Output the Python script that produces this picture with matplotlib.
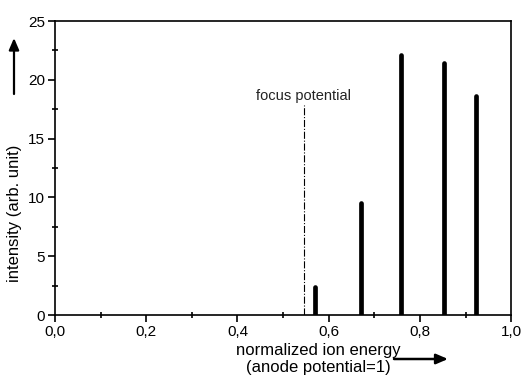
import matplotlib
matplotlib.use("Agg")
import matplotlib.pyplot as plt
import numpy as np

# === DATA ===
energy = [0.570, 0.670, 0.758, 0.853, 0.923]
intensity = [2.35, 9.5, 22.1, 21.4, 18.6]
focus_x = 0.545
focus_top = 17.9
x_ticks = [0.0, 0.2, 0.4, 0.6, 0.8, 1.0]
x_ticklabels = ["0,0", "0,2", "0,4", "0,6", "0,8", "1,0"]
y_ticks = [0, 5, 10, 15, 20, 25]

plt.rcParams['font.family'] = ['Liberation Sans', 'DejaVu Sans']

fig = plt.figure(figsize=(5.21, 3.83), dpi=100)
ax = fig.add_axes([0.1056, 0.1775, 0.8755, 0.7675])

# === BARS (thick vertical lines) ===
ax.vlines(energy, 0, intensity, color='black', linewidth=3.4, capstyle='round')

# focus potential marker
ax.vlines(focus_x, 0, focus_top, color='black', linewidth=0.8, linestyles='dashdot')
ax.text(focus_x, 18.3, "focus potential", ha='center', va='baseline',
        fontsize=10.5, color='#222222')

ax.set_xlim(0, 1.0)
ax.set_ylim(0, 25)
ax.set_xticks(x_ticks)
ax.set_xticklabels(x_ticklabels)
ax.set_yticks(y_ticks)
ax.set_xticks(np.arange(0.1, 1.0, 0.2), minor=True)
ax.set_yticks(np.arange(2.5, 25, 5), minor=True)
ax.tick_params(which='major', direction='out', length=5, width=1.2, labelsize=11, pad=2)
ax.tick_params(which='minor', direction='inout', length=5, width=1.2)

for s in ax.spines.values():
    s.set_linewidth(1.2)

# axis labels with arrows
ax.set_ylabel("intensity (arb. unit)", fontsize=12, va='center')
ax.yaxis.set_label_coords(-0.088, 0.347)
fig.text(318 / 521, 1 - 359 / 383, "normalized ion energy\n(anode potential=1)",
         ha='center', va='center', fontsize=12, linespacing=1.1)
ax.annotate("", xy=(14 / 521, 1 - 38 / 383), xytext=(14 / 521, 1 - 94 / 383),
            xycoords='figure fraction', textcoords='figure fraction',
            arrowprops=dict(arrowstyle='-|>,head_length=0.7,head_width=0.3',
                            color='black', lw=1.6, shrinkA=0, shrinkB=0))
ax.annotate("", xy=(448 / 521, 1 - 359 / 383), xytext=(394 / 521, 1 - 359 / 383),
            xycoords='figure fraction', textcoords='figure fraction',
            arrowprops=dict(arrowstyle='-|>,head_length=0.7,head_width=0.3',
                            color='black', lw=1.8, shrinkA=0, shrinkB=0))

plt.savefig("out.png", dpi=100)
